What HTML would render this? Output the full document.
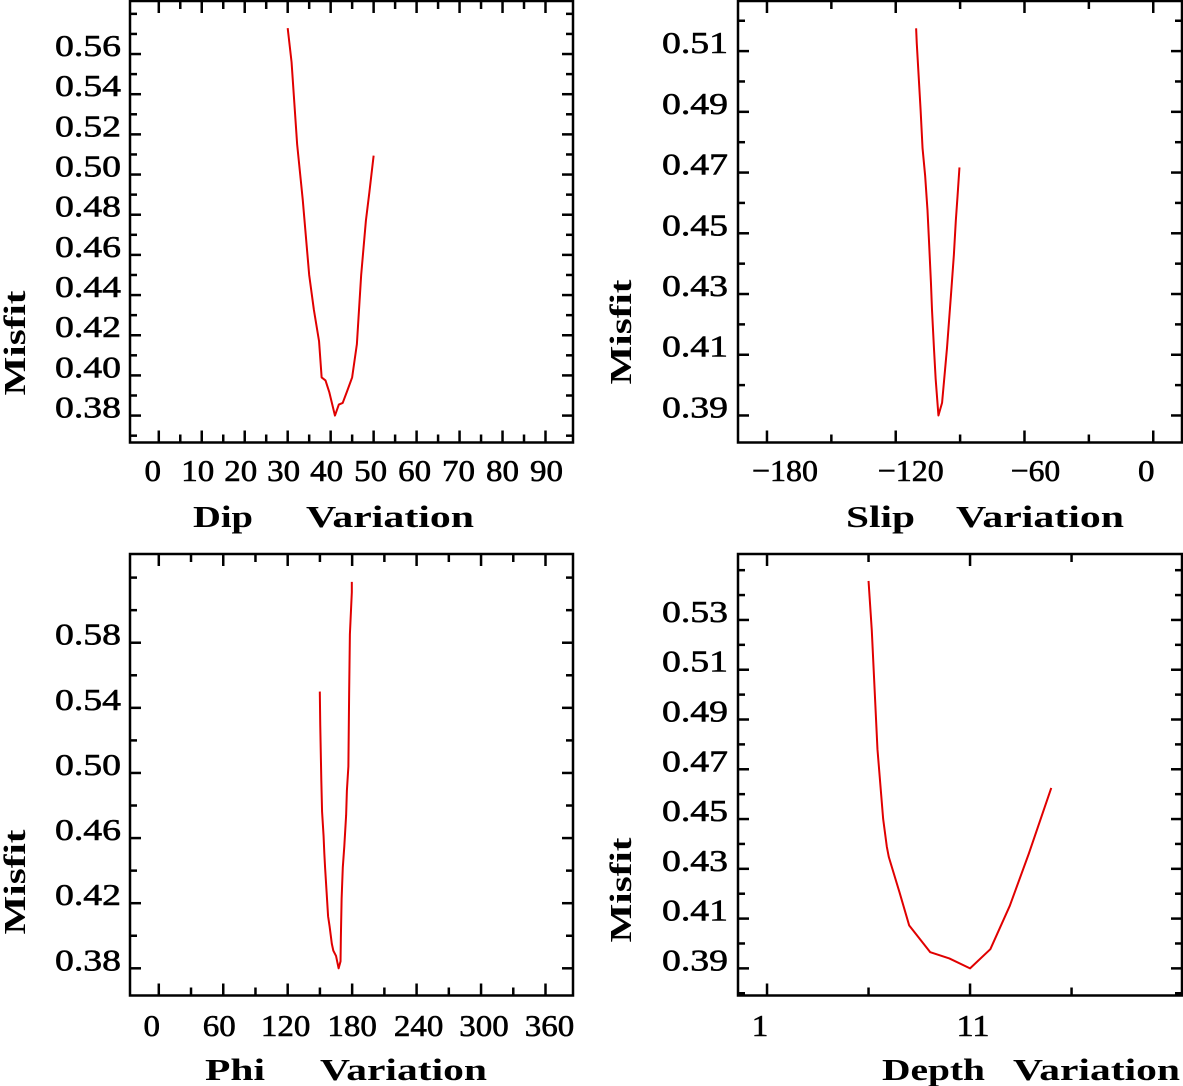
<!DOCTYPE html>
<html><head><meta charset="utf-8"><style>
html,body{margin:0;padding:0;background:#fff;}
svg{display:block;}
text{font-family:"Liberation Serif",serif;fill:#000;}
</style></head><body>
<svg id="chart" width="1183" height="1086" viewBox="0 0 1183 1086" xmlns="http://www.w3.org/2000/svg"></svg>
<script>
// ---- data ----
const dipX = [30, 30.9, 32.2, 33.1, 33.5, 35, 36.1, 37.3, 37.9, 38.8, 39.7, 41, 41.9, 42.8, 43.8, 45, 46.1, 47.1, 48.2, 49, 50];
const dipY = [0.5729, 0.556, 0.515, 0.496, 0.4875, 0.450, 0.4326, 0.417, 0.399, 0.3975, 0.3915, 0.380, 0.3855, 0.3863, 0.392, 0.399, 0.4155, 0.450, 0.477, 0.491, 0.5094];
const slipX = [-110.5, -110.2, -108.4, -107.5, -106.3, -105.2, -104.5, -103.6, -103.1, -102.2, -101.4, -100.1, -98.4, -96.1, -94.3, -92.9, -92.0, -91.2, -90.3];
const slipY = [0.5175, 0.5126, 0.4905, 0.478, 0.469, 0.4576, 0.4475, 0.4339, 0.4248, 0.4123, 0.4021, 0.390, 0.3942, 0.4123, 0.4293, 0.4429, 0.4542, 0.4622, 0.4717];
const phiX = [149.9, 150.3, 151.3, 152.0, 153.4, 154.1, 154.8, 156.2, 157.6, 159.0, 161.1, 162.5, 165.0, 167.4, 169.2, 169.5, 170.2, 171.3, 172.7, 174.4, 175.1, 176.5, 177.2, 177.9, 179.7, 179.7];
const phiY = [0.550, 0.5297, 0.4955, 0.4763, 0.4613, 0.4506, 0.442, 0.427, 0.412, 0.4058, 0.395, 0.3908, 0.3876, 0.380, 0.3843, 0.3993, 0.4228, 0.442, 0.4549, 0.4741, 0.489, 0.504, 0.549, 0.5852, 0.611, 0.6174];
const depthX = [6.0, 6.16, 6.44, 6.72, 6.9, 7.0, 7.52, 8.0, 9.04, 9.98, 11.0, 12.0, 12.96, 13.9, 15.0];
const depthY = [0.5457, 0.5258, 0.478, 0.45, 0.4389, 0.4347, 0.4207, 0.4073, 0.3965, 0.394, 0.390, 0.3977, 0.4152, 0.4362, 0.4625];
const dipXTicks = ["0","10","20","30","40","50","60","70","80","90"];
const dipYTicks = ["0.38","0.40","0.42","0.44","0.46","0.48","0.50","0.52","0.54","0.56"];
const slipXTicks = ["-180","-120","-60","0"];
const slipYTicks = ["0.39","0.41","0.43","0.45","0.47","0.49","0.51"];
const phiXTicks = ["0","60","120","180","240","300","360"];
const phiYTicks = ["0.38","0.42","0.46","0.50","0.54","0.58"];
const depthXTicks = ["1","11"];
const depthYTicks = ["0.39","0.41","0.43","0.45","0.47","0.49","0.51","0.53"];

const NS = "http://www.w3.org/2000/svg";
const svg = document.getElementById('chart');
function mk(tag, attrs, parent){
  const e = document.createElementNS(NS, tag);
  for (const k in attrs) e.setAttribute(k, attrs[k]);
  (parent||svg).appendChild(e);
  return e;
}

const panels = [
  {key:'dip', xs:dipX, ys:dipY, xt:dipXTicks, yt:dipYTicks, L:130, R:573, T:1, B:442.5,
   xd:[-6.7,96.4], yd:[0.3666,0.5864], xMinor:5, xTickRange:[0,90], yMinor:0.01, title:['Dip','Variation'],
   tpos:[[193,60],[306,168]], titleY:527, xlabY:481, yLabR:121, misfit:[14,343], xoff:[-6,-4,-4,-4,-4,-3,-2,-1,0,1]},
  {key:'slip', xs:slipX, ys:slipY, xt:slipXTicks, yt:slipYTicks, L:738, R:1182, T:1, B:442.5,
   xd:[-193.5,13.4], yd:[0.3811,0.5265], xMinor:30, xTickRange:[-180,0], yMinor:0.01, title:['Slip','Variation'],
   tpos:[[846,69],[956,168]], titleY:527, xlabY:481, yLabR:728, misfit:[620,332], xoff:[18,15,11,-7]},
  {key:'phi', xs:phiX, ys:phiY, xt:phiXTicks, yt:phiYTicks, L:130, R:573, T:554, B:995.5,
   xd:[-26.8,385.6], yd:[0.3633,0.6345], xMinor:30, xTickRange:[0,360], yMinor:0.02, title:['Phi','Variation'],
   tpos:[[205,60],[320,167]], titleY:1080, xlabY:1036, yLabR:121, misfit:[14,882], xoff:[-7,-4,-2,0,2,3,4]},
  {key:'depth', xs:depthX, ys:depthY, xt:depthXTicks, yt:depthYTicks, L:738, R:1182, T:554, B:995.5,
   xd:[-0.43,21.44], yd:[0.3791,0.5565], xMinor:5, xTickRange:[1,16], yMinor:0.01, title:['Depth','Variation'],
   tpos:[[882,103],[1013,167]], titleY:1080, xlabY:1036, yLabR:728, misfit:[620,890], xoff:[-7,3]}
];

panels.forEach(p => {
  const g = mk('g', {});
  
  
  const sx = v => p.L + (v - p.xd[0]) / (p.xd[1] - p.xd[0]) * (p.R - p.L);
  const sy = v => p.B - (v - p.yd[0]) / (p.yd[1] - p.yd[0]) * (p.B - p.T);

  const frame = mk('rect', {x:p.L, y:p.T, width:p.R-p.L, height:p.B-p.T, fill:'none', stroke:'#000', 'stroke-width':2.5}, g);
  
  

  const majorX = p.xt.map(Number);
  for (let v = p.xTickRange[0]; v <= p.xTickRange[1] + 1e-9; v += p.xMinor) {
    const isMaj = majorX.some(m => Math.abs(m - v) < 1e-6);
    const len = isMaj ? 12 : 8;
    const x = sx(v);
    mk('line', {x1:x, y1:p.B, x2:x, y2:p.B-len, stroke:'#000', 'stroke-width':2.5}, g);
    mk('line', {x1:x, y1:p.T, x2:x, y2:p.T+len, stroke:'#000', 'stroke-width':2.5}, g);
  }
  const majorY = p.yt.map(Number);
  const yStart = Math.ceil(p.yd[0] / p.yMinor - 1e-6);
  for (let i = yStart; i * p.yMinor <= p.yd[1] + 1e-9; i++) {
    const v = i * p.yMinor;
    const isMaj = majorY.some(m => Math.abs(m - v) < 1e-6);
    const len = isMaj ? 11 : 7;
    const y = sy(v);
    mk('line', {x1:p.L, y1:y, x2:p.L+len, y2:y, stroke:'#000', 'stroke-width':2.5}, g);
    mk('line', {x1:p.R, y1:y, x2:p.R-len, y2:y, stroke:'#000', 'stroke-width':2.5}, g);
  }
  p.xt.forEach((lab, i) => {
    const t = mk('text', {x:sx(Number(lab)) + p.xoff[i], y:p.xlabY, 'text-anchor':'middle', 'font-size':31,
      stroke:'#000', 'stroke-width':0.6,
      textLength: lab.length*16.5, lengthAdjust:'spacingAndGlyphs'}, g);
    t.textContent = lab.replace('-', '\u2212');
    
    
  });
  p.yt.forEach(lab => {
    const t = mk('text', {x:p.yLabR, y:sy(Number(lab)) + 2, 'text-anchor':'end', 'font-size':31,
      stroke:'#000', 'stroke-width':0.6,
      textLength: 66, lengthAdjust:'spacingAndGlyphs'}, g);
    t.textContent = lab;
    
    
  });
  p.title.forEach((w, i) => {
    const t = mk('text', {x:p.tpos[i][0], y:p.titleY, 'font-size':31, 'font-weight':'bold',
      textLength:p.tpos[i][1], lengthAdjust:'spacingAndGlyphs'}, g);
    t.textContent = w;
    
    
  });
  const m = mk('text', {x:0, y:0, 'font-size':31, 'font-weight':'bold', 'text-anchor':'middle',
    textLength:105, lengthAdjust:'spacingAndGlyphs',
    transform:'translate(' + (p.misfit[0] + 11) + ',' + p.misfit[1] + ') rotate(-90)'}, g);
  m.textContent = 'Misfit';
  
  

  const pts = p.xs.map((x, i) => sx(x).toFixed(2) + ',' + sy(p.ys[i]).toFixed(2)).join(' ');
  const line = mk('polyline', {points:pts, fill:'none', stroke:'#e00000', 'stroke-width':2, 'stroke-linejoin':'round'}, g);
  
  
});
</script>
</body></html>
